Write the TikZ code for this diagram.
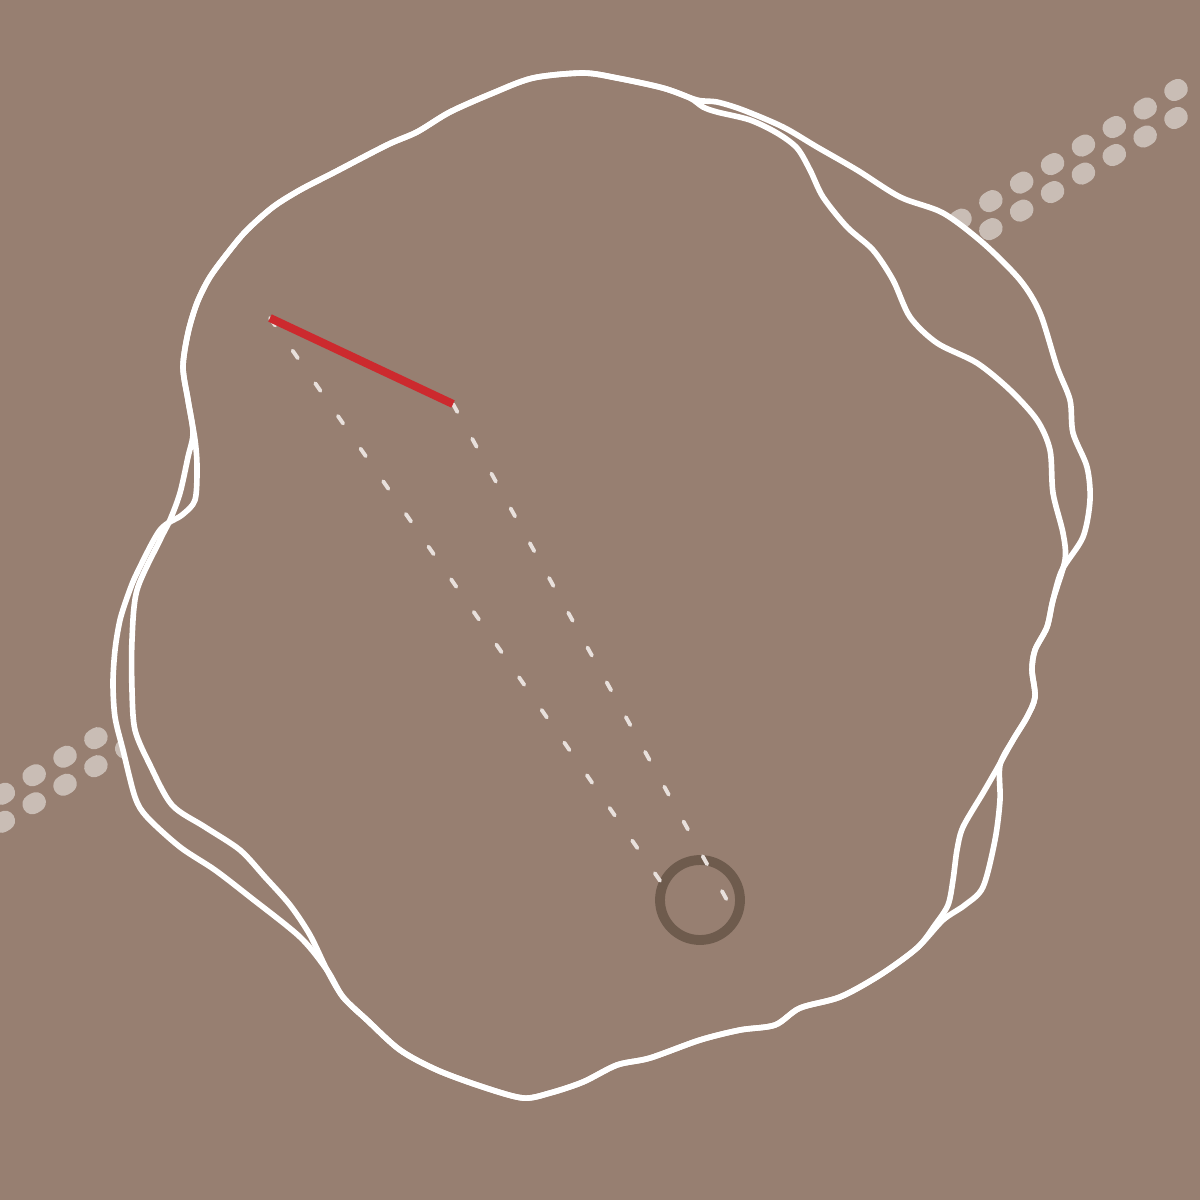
\documentclass[tikz,border=0pt]{standalone}
\usepackage{xcolor}
\usepackage{tikz}
\definecolor{mudbrown}{RGB}{151,127,113}
\definecolor{pebble}{RGB}{201,189,181}
\definecolor{markred}{RGB}{204,42,46}
\definecolor{ringbrown}{RGB}{110,91,77}
\definecolor{chalk}{RGB}{232,224,220}
% the two sketched outlines of the blob
\newcommand{\rimone}{plot[smooth cycle] coordinates {
 (583,73) (617,78) (663,88) (697,100) (717,102) (743,110) (783,127) (817,147)
 (857,170) (900,197) (943,213) (983,243) (1020,280) (1040,313) (1057,367)
 (1070,400) (1073,433) (1087,467) (1090,500) (1083,537) (1062,570) (1053,600)
 (1047,627) (1035,650) (1032,670) (1035,697) (1027,717) (1013,740) (1000,765)
 (1000,800) (995,840) (983,887) (965,905) (943,920) (917,948) (880,975)
 (840,997) (800,1008) (775,1025) (740,1030) (700,1040) (650,1058) (617,1065)
 (583,1082) (550,1093) (523,1098) (483,1087) (437,1070) (400,1050) (367,1020)
 (343,997) (327,970) (310,935) (290,905) (265,877) (240,850) (205,827)
 (172,805) (150,765) (135,730) (132,690) (132,640) (137,590) (160,540)
 (170,520) (180,493) (188,457) (193,433) (188,400) (183,367) (188,333)
 (197,303) (210,277) (230,250) (247,230) (273,207) (300,190) (333,173)
 (387,145) (417,132) (450,112) (493,93) (533,78)}}
\newcommand{\rimtwo}{plot[smooth cycle] coordinates {
 (583,73) (617,78) (663,88) (690,98) (703,107) (717,112) (750,120) (777,133)
 (797,148) (810,170) (823,197) (847,227) (873,250) (893,280) (910,317)
 (937,343) (977,363) (1010,390) (1037,420) (1050,450) (1053,493) (1063,533)
 (1065,560) (1053,600) (1047,627) (1035,650) (1032,670) (1035,697) (1027,717)
 (1013,740) (998,767) (983,793) (963,827) (957,850) (953,880) (948,905)
 (935,925) (917,948) (880,975) (840,997) (800,1008) (775,1025) (740,1030)
 (700,1040) (650,1058) (617,1065) (583,1082) (550,1093) (523,1098) (483,1087)
 (437,1070) (400,1050) (367,1020) (343,997) (327,970) (300,937) (250,897)
 (215,870) (180,847) (147,817) (135,797) (123,750) (115,717) (113,683)
 (115,650) (120,620) (128,595) (137,573) (160,530) (182,515) (195,500)
 (197,467) (195,440) (188,400) (183,367) (188,333) (197,303) (210,277)
 (230,250) (247,230) (273,207) (300,190) (333,173) (387,145) (417,132)
 (450,112) (493,93) (533,78)}}

\begin{document}
\begin{tikzpicture}[x=0.01cm, y=-0.01cm,
  outline/.style={draw=white, line width=1.6pt, line join=round},
  pebbledot/.style={fill=pebble, rounded corners=2.8pt},
  sightline/.style={draw=chalk, line width=1.1pt, line cap=round, dash pattern=on 2.6pt off 8.7pt}]
\useasboundingbox (0,0) rectangle (1200,1200);
\clip (0,0) rectangle (1200,1200);
\fill[mudbrown] (0,0) rectangle (1200,1200);

% band of pebbles, two rows
\foreach \k in {0,...,38} {
  \pgfmathsetmacro{\px}{1176-30.86*\k}
  \pgfmathsetmacro{\py}{90+18.52*\k}
  \foreach \dy in {0,28}
    \fill[pebbledot, rotate around={31:(\px,\py+\dy)}] (\px-12,\py+\dy-10) rectangle (\px+12,\py+\dy+10);
}

% blob
\fill[mudbrown] \rimone;
\fill[mudbrown] \rimtwo;
\draw[outline] \rimone;
\draw[outline] \rimtwo;

\coordinate (redtail) at (270,318);
\coordinate (redhead) at (453,404);
\coordinate (ringctr) at (700,900);
\coordinate (ringL) at (663,885);
\coordinate (ringR) at (728,902);

\draw[ringbrown, line width=2.8pt] (ringctr) circle[radius=40];
\draw[sightline] (redtail) -- (ringL);
\draw[sightline] (redhead) -- (ringR);
\draw[markred, line width=2.3pt] (redtail) -- (redhead);
\end{tikzpicture}
\end{document}
